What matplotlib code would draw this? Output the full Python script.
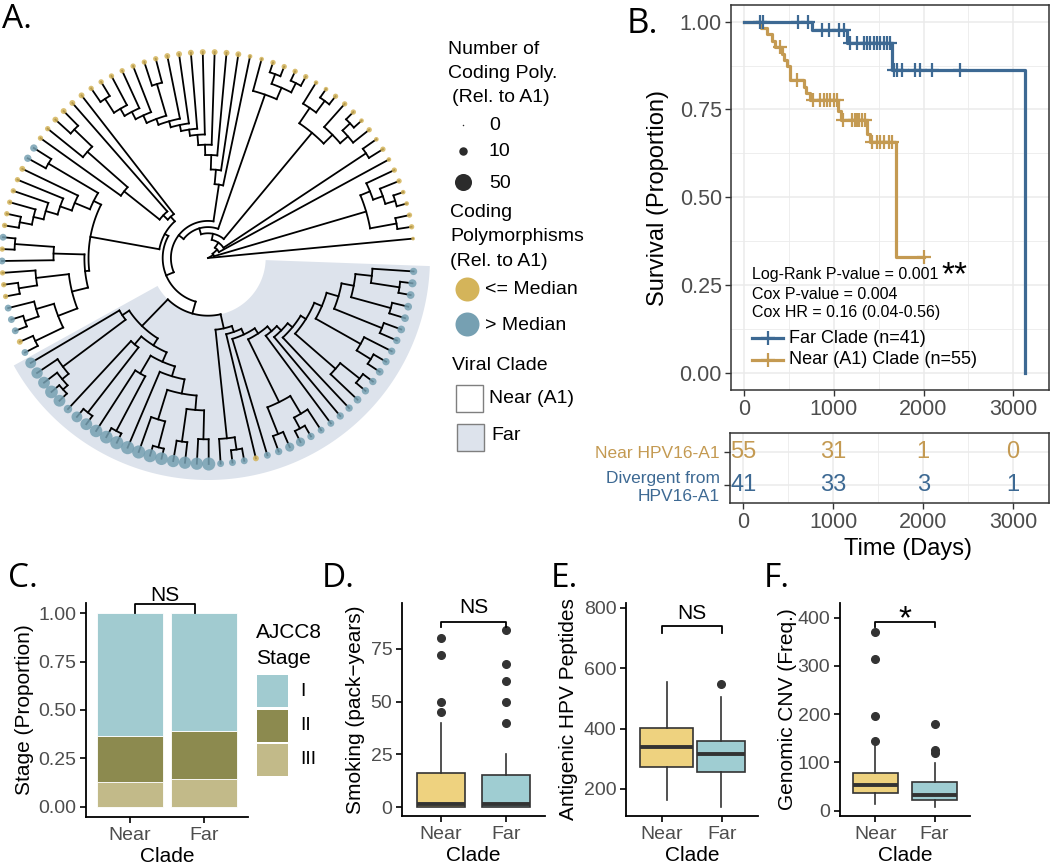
import numpy as np
import matplotlib
matplotlib.use("Agg")
import matplotlib.pyplot as plt
from matplotlib.collections import LineCollection
from matplotlib.patches import Polygon, Rectangle
from matplotlib.ticker import MultipleLocator

plt.rcParams['font.family'] = ['Liberation Sans', 'DejaVu Sans']

# ===================== DATA =====================
# ---- Panel A: phylogeny.  Newick pieces; the number after ':' on an internal
# node is its radial depth (fraction of the tip radius); tips sit on the rim.
clade_A = "((n2,n3):0.93,(((n4,n5):0.95,n6):0.9,n7):0.85):0.8"
clade_910 = "(n9,n10):0.92"
clade_B = "(((n11,(n12,n13):0.95):0.9,n14):0.85,((n15,n16):0.95,n17):0.88):0.79"
clade_C = "(((n18,n19):0.95,(n20,n21):0.95):0.9,n22):0.84"
clade_top = ("(n23,(n24,(n25,(n26,(n27,(n28,(n29,(n30,((n31,n32):0.88,(n33,(n34,(n35,"
             "(n36,n37):0.92):0.84):0.8):0.76):0.72):0.69):0.66):0.63):0.6):0.55):0.5):0.43):0.36")
clade_Q1 = "(n38,(n39,(((n40,n41):0.9,n42):0.78,n43):0.52):0.3):0.27"
clade_L1 = "((n44,n45):0.9,(n46,(n47,(n48,(n49,(n50,n51):0.93):0.87):0.82):0.76):0.7):0.62"
clade_L2 = "(((n52,n53):0.94,n54):0.75,((n55,(n56,n57):0.93):0.84,((n58,(n59,n60):0.94):0.87,(n61,n62):0.93):0.78):0.68):0.6"
clade_FL = ("((f1,(f2,(f3,(f4,f5):0.95):0.92):0.88):0.5,((f6,(f7,f8):0.95):0.55,((f9,(f10,f11):0.95):0.65,"
            "(f12,((f13,(f14,f15):0.95):0.82,((f16,f17):0.9,(f18,f19):0.88):0.74):0.67):0.6):0.55):0.5):0.46")
clade_FR_inner = "(((f36,f37):0.93,f38):0.85,((f39,f40):0.91,((f41,f42):0.92,((f43,f44):0.94,f45):0.8):0.72):0.66):0.6"
clade_FR = ("((f20,(f21,f22):0.94):0.88,(f23,(f24,(((f25,f26):0.92,((f27,f28):0.94,f29):0.88):0.78,"
            "(f30,(f31,(f32,((f33,(f34,f35):0.94):0.82," + clade_FR_inner + "):0.56):0.53):0.5):0.47):0.44):0.41):0.38):0.35")
clade_far = "(" + clade_FL + "," + clade_FR + "):0.28"
clade_left = "(" + clade_L1 + "," + clade_L2 + "):0.58"
clade_Q = "(" + clade_Q1 + "," + clade_left + "):0.24"
clade_P = "(" + clade_Q + "," + clade_far + "):0.22"
tree_newick = ("(n1,(" + clade_A + ",(n8,(" + clade_910 + ",(" + clade_B + ",(" + clade_C + ",(" +
               clade_top + "," + clade_P + "):0.18):0.15):0.12):0.09):0.06):0.03);")

# coding polymorphisms per tip (tree order) and class (1 = > median)
tip_poly = [1, 3, 3, 2, 2, 3, 3, 2, 3, 2,
            3, 2, 3, 3, 3, 2, 2, 3, 3, 3, 3, 2,
            2, 4, 4, 4, 4, 4, 4, 4, 3, 3, 3, 3, 3, 3, 3,
            4, 4, 4, 4, 3, 3,
            7, 7, 4, 3, 3, 3, 3, 3,
            6, 3, 6, 3, 3, 3, 6, 6, 6, 4, 6,
            18, 20, 22, 26, 22, 10, 18, 22, 25, 26, 28, 28, 28, 28, 26, 24, 24, 24, 28,
            6, 6, 6, 4, 6, 7, 12, 12, 7, 6, 6, 7, 7, 8, 7, 7, 8, 7, 7, 7, 8, 8, 8, 8, 9, 7]
tip_above = ([0] * 43 + [1, 1] + [0] * 6 + [1, 0, 1, 0, 0, 0, 1, 1, 1, 0, 1] +
             [1] * 22 + [0] + [1] * 22)
far_clade_first, far_clade_last = "f1", "f45"
size_legend_vals = [0, 10, 50]

# ---- Panel B: Kaplan-Meier
far_time = [0, 755, 1145, 1650, 3133]
far_surv = [1.0, 0.976, 0.940, 0.862, 0.0]
far_cens = [178, 212, 602, 713, 866, 940, 1051, 1107, 1182, 1256, 1330, 1368, 1405, 1442,
            1480, 1516, 1553, 1591, 1628, 1665, 1705, 1760, 1905, 1960, 2090, 2410]
near_time = [0, 190, 250, 305, 345, 420, 440, 480, 512, 660, 690, 730, 1050, 1075, 1368, 1398, 1692, 2000]
near_surv = [1.0, 0.982, 0.964, 0.945, 0.927, 0.909, 0.891, 0.873, 0.834, 0.815, 0.796, 0.777,
             0.745, 0.720, 0.680, 0.658, 0.329, 0.329]
near_cens = [400, 587, 770, 847, 884, 922, 959, 996, 1033, 1105, 1200, 1237, 1256, 1275, 1312,
             1349, 1423, 1479, 1516, 1553, 1609, 1646, 2000]
km_labels = ["Far Clade (n=41)", "Near (A1) Clade (n=55)"]
km_stats = ["Log-Rank P-value = 0.001", "Cox P-value = 0.004", "Cox HR = 0.16 (0.04-0.56)"]
risk_times = [0, 1000, 2000, 3000]
risk_near = [55, 31, 1, 0]
risk_far = [41, 33, 3, 1]
risk_labels = ["Divergent from\nHPV16-A1", "Near HPV16-A1"]

# ---- Panel C: AJCC8 stage counts
clades = ["Near", "Far"]
stage_labels = ["I", "II", "III"]
stage_near = [35, 13, 7]
stage_far = [25, 10, 6]

# ---- Panels D-F: box statistics [whislo, q1, median, q3, whishi] and outliers
smoke_near = [0, 0, 1.5, 16, 40];     smoke_near_out = [45, 50, 72, 80]
smoke_far = [0, 0, 1.5, 15, 25];      smoke_far_out = [40, 50, 60, 68, 84]
pep_near = [163, 272, 340, 403, 553]; pep_near_out = []
pep_far = [140, 256, 317, 358, 505];  pep_far_out = [549]
cnv_near = [14, 36, 53, 78, 135];     cnv_near_out = [145, 197, 315, 370]
cnv_far = [8, 22, 32, 60, 98];        cnv_far_out = [119, 125, 179]

# ===================== STYLE =====================
FW, FH = 1050, 865
NEAR_C, FAR_C = '#C49A52', '#3D6993'
TIP_Y, TIP_B = '#D4B45A', '#76A0B2'
SHADE = '#DDE3EC'
BOX_Y, BOX_T = '#EED27F', '#9FCDD2'
STAGE_C = ['#A1CBD0', '#8C8A4F', '#C2BA89']
GRID = '#EBEBEB'
TICKC = '#4D4D4D'
LABEL_FONT = ['Open Sans', 'DejaVu Sans']

fig = plt.figure(figsize=(FW / 100, FH / 100), dpi=100)


def axrect(l, t, r, b):
    return [l / FW, 1 - b / FH, (r - l) / FW, (b - t) / FH]


def ftext(x, y, s, **kw):
    return fig.text(x / FW, 1 - y / FH, s, **kw)


def size_px(v):
    return 1.5 + 2.2 * np.sqrt(v)


# ===================== PANEL A =====================
def parse_newick(s):
    s = s.strip().rstrip(';')
    pos = [0]

    def node():
        if s[pos[0]] == '(':
            pos[0] += 1
            kids = [node()]
            while s[pos[0]] == ',':
                pos[0] += 1
                kids.append(node())
            pos[0] += 1  # ')'
            depth = 0.0
            if pos[0] < len(s) and s[pos[0]] == ':':
                pos[0] += 1
                st = pos[0]
                while pos[0] < len(s) and s[pos[0]] not in ',)':
                    pos[0] += 1
                depth = float(s[st:pos[0]])
            return {'kids': kids, 'depth': depth, 'name': None}
        st = pos[0]
        while pos[0] < len(s) and s[pos[0]] not in ',)':
            pos[0] += 1
        return {'kids': [], 'depth': 1.0, 'name': s[st:pos[0]]}
    return node()


root = parse_newick(tree_newick)
leaves = []


def collect(n):
    if not n['kids']:
        leaves.append(n)
    for c in n['kids']:
        collect(c)


collect(root)
theta0, dtheta = 5.4, 3.31
for i, lf in enumerate(leaves):
    lf['ang'] = theta0 + i * dtheta


def set_ang(n):
    if n['kids']:
        for c in n['kids']:
            set_ang(c)
        n['ang'] = float(np.mean([c['ang'] for c in n['kids']]))


set_ang(root)

tax = fig.add_axes(axrect(0, 0, 440, 480))
tax.set_xlim(0, 440)
tax.set_ylim(480, 0)
tax.axis('off')
CX, CY, RT = 208, 258, 206


def pol(r, a):
    t = np.deg2rad(a)
    return CX + r * np.cos(t), CY - r * np.sin(t)


# shading for far clade
names = [lf['name'] for lf in leaves]
a0 = leaves[names.index(far_clade_first)]['ang'] - dtheta / 2
a1 = leaves[names.index(far_clade_last)]['ang'] + dtheta / 2
aa = np.linspace(a0, a1, 300)
r_in, r_out = 0.28 * RT, RT + 16
outer = [pol(r_out, a) for a in aa]
inner = [pol(r_in, a) for a in aa[::-1]]
tax.add_patch(Polygon(outer + inner, closed=True, facecolor=SHADE, edgecolor='none', zorder=0))

segs = []


def build(n):
    if not n['kids']:
        return
    r = n['depth'] * RT
    angs = [c['ang'] for c in n['kids']]
    if r > 0:
        aa = np.linspace(min(angs), max(angs), 60)
        segs.append([pol(r, a) for a in aa])
    for c in n['kids']:
        segs.append([pol(r, c['ang']), pol(c['depth'] * RT, c['ang'])])
        build(c)


build(root)
tax.add_collection(LineCollection(segs, colors='black', linewidths=1.3, capstyle='projecting', zorder=2))
tx = [pol(RT, lf['ang'])[0] for lf in leaves]
ty = [pol(RT, lf['ang'])[1] for lf in leaves]
tcol = [TIP_B if g else TIP_Y for g in tip_above]
tsz = [(size_px(v) * 0.72) ** 2 for v in tip_poly]
tax.scatter(tx, ty, s=tsz, c=tcol, alpha=0.85, linewidths=0, zorder=3)

# legend of A (overlay axes in pixel coords)
lax = fig.add_axes([0, 0, 1, 1])
lax.set_xlim(0, FW)
lax.set_ylim(FH, 0)
lax.axis('off')
LF = 14
ftext(448, 50, "Number of", fontsize=LF, va='center')
ftext(448, 73, "Coding Poly.", fontsize=LF, va='center')
ftext(452, 97, "(Rel. to A1)", fontsize=LF, va='center')
for v, yy in zip(size_legend_vals, [125, 151, 182]):
    lax.scatter([463], [yy], s=(size_px(v) * 0.72) ** 2, c='#2B2B2B', linewidths=0)
    ftext(489, yy + 1, str(v), fontsize=LF, va='center')
ftext(450, 213, "Coding", fontsize=LF, va='center')
ftext(450, 237, "Polymorphisms", fontsize=LF, va='center')
ftext(450, 262, "(Rel. to A1)", fontsize=LF, va='center')
lax.scatter([467], [289], s=(24 * 0.72) ** 2, c=TIP_Y, linewidths=0)
ftext(485, 290, "<= Median", fontsize=LF, va='center')
lax.scatter([467], [324], s=(24 * 0.72) ** 2, c=TIP_B, linewidths=0)
ftext(485, 325, "> Median", fontsize=LF, va='center')
ftext(452, 365, "Viral Clade", fontsize=LF, va='center')
lax.add_patch(Rectangle((456, 385), 27, 27, facecolor='white', edgecolor='#7F7F7F', lw=1))
ftext(489, 399, "Near (A1)", fontsize=LF, va='center')
lax.add_patch(Rectangle((457, 424), 27, 27, facecolor=SHADE, edgecolor='#7F7F7F', lw=1))
ftext(491, 435, "Far", fontsize=LF, va='center')

# ===================== PANEL B =====================
kax = fig.add_axes(axrect(731, 5, 1049, 390))
XL = (-150, 3401)


def surv_at(times, surv, t):
    idx = np.searchsorted(np.asarray(times), np.asarray(t), side='right') - 1
    return np.asarray(surv)[idx]


kax.step(near_time, near_surv, where='post', color=NEAR_C, lw=2.3, zorder=3)
kax.plot(near_cens, surv_at(near_time, near_surv, near_cens), ls='none', marker='+',
         ms=10, mew=1.6, color=NEAR_C, zorder=3)
kax.step(far_time, far_surv, where='post', color=FAR_C, lw=2.3, zorder=4)
kax.plot(far_cens, surv_at(far_time, far_surv, far_cens), ls='none', marker='+',
         ms=10, mew=1.6, color=FAR_C, zorder=4)
kax.set_xlim(*XL)
kax.set_ylim(-0.049, 1.0475)
kax.set_xticks([0, 1000, 2000, 3000])
kax.set_yticks([0, 0.25, 0.5, 0.75, 1.0])
kax.set_yticklabels(["0.00", "0.25", "0.50", "0.75", "1.00"])
kax.xaxis.set_minor_locator(MultipleLocator(500))
kax.yaxis.set_minor_locator(MultipleLocator(0.125))
kax.grid(which='major', color=GRID, lw=1.1)
kax.grid(which='minor', color=GRID, lw=0.6)
kax.set_axisbelow(True)
kax.tick_params(which='major', length=4.5, width=1, color='#333333', labelsize=15.5,
                labelcolor=TICKC, pad=2)
kax.tick_params(which='minor', length=0)
for sp in kax.spines.values():
    sp.set_color('#333333')
    sp.set_linewidth(1.1)
kax.set_ylabel("Survival (Proportion)", fontsize=17)
kax.yaxis.set_label_coords(-0.195, 0.5)
for i, s in enumerate(km_stats):
    kax.text(0.066, [0.299, 0.249, 0.2][i], s, transform=kax.transAxes, fontsize=11.5, va='center')
kax.text(0.704, 0.275, "**", transform=kax.transAxes, fontsize=24, ha='center', va='baseline')
for lab, col, yy in zip(km_labels, [FAR_C, NEAR_C], [0.135, 0.078]):
    kax.plot([0.066, 0.164], [yy, yy], transform=kax.transAxes, color=col, lw=2.3)
    kax.plot([0.115], [yy], transform=kax.transAxes, marker='+', ms=10, mew=1.6, color=col)
    kax.text(0.182, yy, lab, transform=kax.transAxes, fontsize=13, va='center')
ftext(627, 33, "B.", fontsize=25, family=LABEL_FONT, va='baseline')

# risk table
rax = fig.add_axes(axrect(730, 433, 1049, 503))
rax.set_xlim(*XL)
rax.set_ylim(0.45, 2.58)
for t, a, b in zip(risk_times, risk_near, risk_far):
    rax.text(t, 2, str(a), color=NEAR_C, fontsize=17, ha='center', va='center')
    rax.text(t, 1, str(b), color=FAR_C, fontsize=17, ha='center', va='center')
rax.set_xticks(risk_times)
rax.set_yticks([1, 2])
rax.set_yticklabels(risk_labels, fontsize=12.5, multialignment='right')
rax.get_yticklabels()[0].set_color(FAR_C)
rax.get_yticklabels()[1].set_color(NEAR_C)
rax.xaxis.set_minor_locator(MultipleLocator(500))
rax.grid(which='major', color=GRID, lw=1.1)
rax.grid(which='minor', axis='x', color=GRID, lw=0.6)
rax.set_axisbelow(True)
rax.tick_params(axis='x', which='major', length=4.5, width=1, color='#333333', labelsize=15.5,
                labelcolor=TICKC, pad=2)
rax.tick_params(axis='y', which='major', length=4.5, width=1, color='#333333', pad=3)
rax.tick_params(which='minor', length=0)
for sp in rax.spines.values():
    sp.set_color('#333333')
    sp.set_linewidth(1.1)
rax.set_xlabel("Time (Days)", fontsize=17)
rax.xaxis.set_label_coords(0.558, -0.5)


# ===================== BOTTOM PANELS =====================
def classic(ax, yl, ylab_x):
    for s in ['top', 'right']:
        ax.spines[s].set_visible(False)
    for s in ['left', 'bottom']:
        ax.spines[s].set_linewidth(1.3)
        ax.spines[s].set_color('black')
    ax.tick_params(length=4, width=1.2, color='black', labelsize=14, labelcolor=TICKC, pad=3)
    ax.set_xlim(0.4, 2.6)
    ax.set_xticks([1, 2])
    ax.set_xticklabels(clades)
    ax.set_xlabel("Clade", fontsize=15)
    ax.xaxis.set_label_coords(0.5, -0.142)
    ax.set_ylabel(yl, fontsize=15)
    ax.yaxis.set_label_coords(ylab_x, 0.5)


def bracket(ax, x1, x2, ytop, yleg, txt, ytxt, fs=15, va='center'):
    ax.plot([x1, x1, x2, x2], [yleg, ytop, ytop, yleg], color='black', lw=1.3, clip_on=False)
    ax.text((x1 + x2) / 2, ytxt, txt, ha='center', va=va, fontsize=fs, clip_on=False)


# C
cax = fig.add_axes(axrect(86, 603, 248, 817))
props = np.array([stage_near, stage_far], dtype=float)
props = props / props.sum(axis=1, keepdims=True)
bottom = np.zeros(2)
for k in [2, 1, 0]:
    cax.bar([1, 2], props[:, k], bottom=bottom, width=0.9, color=STAGE_C[k],
            edgecolor='white', linewidth=0.6)
    bottom += props[:, k]
cax.set_ylim(-0.052, 1.052)
cax.set_yticks([0, 0.25, 0.5, 0.75, 1.0])
cax.set_yticklabels(["0.00", "0.25", "0.50", "0.75", "1.00"])
classic(cax, "Stage (Proportion)", -0.321)
bracket(cax, 1.07, 1.88, 1.045, 1.0, "NS", 1.093)
ftext(256, 632, "AJCC8", fontsize=15, va='center')
ftext(256, 658, "Stage", fontsize=15, va='center')
for k, (lab, yy) in enumerate(zip(stage_labels, [675, 710, 744])):
    lax.add_patch(Rectangle((257, yy), 31, 32, facecolor=STAGE_C[k], edgecolor='none'))
    ftext(300, yy + 16, lab, fontsize=14, va='center')
ftext(8, 587, "C.", fontsize=24, family=LABEL_FONT, va='baseline')


def boxes(ax, qs, outs, positions, widths):
    stats = [dict(whislo=q[0], q1=q[1], med=q[2], q3=q[3], whishi=q[4], fliers=o)
             for q, o in zip(qs, outs)]
    bp = ax.bxp(stats, positions=positions, widths=widths, patch_artist=True, showcaps=False,
                boxprops=dict(linewidth=1.2, edgecolor='#333333'),
                medianprops=dict(color='#333333', linewidth=2.8, solid_capstyle='butt'),
                whiskerprops=dict(color='#333333', linewidth=1.2),
                flierprops=dict(marker='o', markerfacecolor='#333333', markeredgecolor='#333333',
                                markersize=5.5))
    for patch, col in zip(bp['boxes'], [BOX_Y, BOX_T]):
        patch.set_facecolor(col)


# D
dax = fig.add_axes(axrect(402, 603, 545, 816))
boxes(dax, [smoke_near, smoke_far], [smoke_near_out, smoke_far_out], [1, 2], [0.75, 0.75])
dax.set_ylim(-4.27, 96.8)
dax.set_yticks([0, 25, 50, 75])
classic(dax, "Smoking (pack\u2212years)", -0.259)
bracket(dax, 1, 2, 88, 85.6, "NS", 94.5)
ftext(322, 587, "D.", fontsize=24, family=LABEL_FONT, va='baseline')

# E
eax = fig.add_axes(axrect(626, 603, 758, 816))
boxes(eax, [pep_near, pep_far], [pep_near_out, pep_far_out], [1.08, 1.98], [0.88, 0.8])
eax.set_ylim(110.4, 816.5)
eax.set_yticks([200, 400, 600, 800])
classic(eax, "Antigenic HPV Peptides", -0.364)
bracket(eax, 1, 2, 739, 717, "NS", 783)
ftext(551, 587, "E.", fontsize=24, family=LABEL_FONT, va='baseline')

# F
gax = fig.add_axes(axrect(840, 603, 970, 816))
boxes(gax, [cnv_near, cnv_far], [cnv_near_out, cnv_far_out], [1, 2], [0.76, 0.76])
gax.set_ylim(-11, 430.5)
gax.set_yticks([0, 100, 200, 300, 400])
classic(gax, "Genomic CNV (Freq.)", -0.331)
bracket(gax, 1, 2, 392, 381, "*", 378.6, fs=24, va='baseline')
ftext(764, 587, "F.", fontsize=24, family=LABEL_FONT, va='baseline')

ftext(2, 28, "A.", fontsize=24, family=LABEL_FONT, va='baseline')

fig.savefig("out.png", dpi=100)
